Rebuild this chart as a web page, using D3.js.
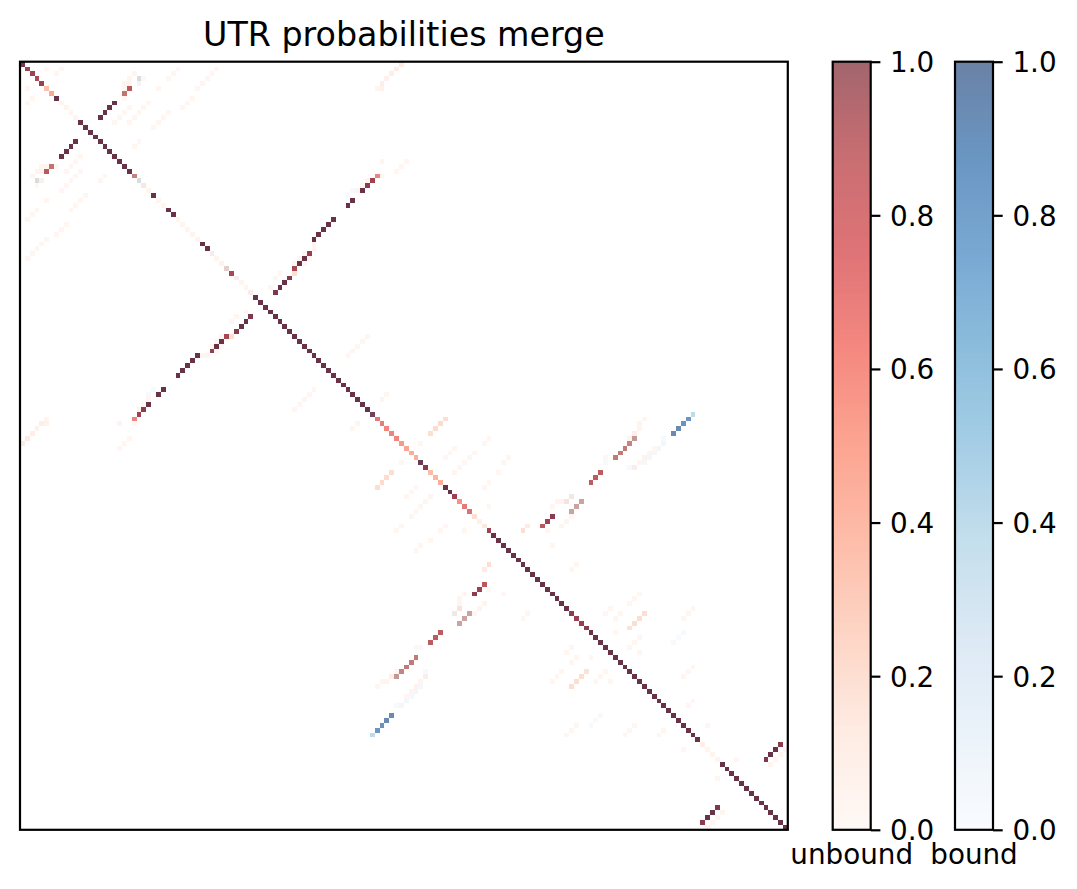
<!DOCTYPE html>
<html>
<head>
<meta charset="utf-8">
<script src="https://cdn.jsdelivr.net/npm/d3@7"></script>
<style>
  html, body { margin: 0; padding: 0; background: #fff; }
  svg { display: block; }
  text { font-family: "DejaVu Sans", sans-serif; fill: #000; }
</style>
</head>
<body>
<svg id="chart" width="1077" height="889"></svg>
<script>
const cellCount = 158;

// values on the main diagonal, one per position
const diagUnbound = [
  .95,.78,.78,.7,.8,.36,.48,1,.05,.05,
  .04,.05,1,1,1,1,1,1,1,1,
  1,1,1,.42,.08,.06,.05,1,.05,.05,
  1,1,.05,.04,.04,.04,.05,1,1,.08,
  .05,.06,.2,.72,.07,.05,.04,.08,1,1,
  1,1,1,1,1,1,1,1,1,1,
  1,1,1,1,1,1,1,1,1,1,
  1,1,1,.72,.7,.64,.66,.64,.55,.5,
  .46,.45,1,.9,.38,.42,.45,1,1,.8,
  .58,.72,.78,.2,.08,.15,.78,1,1,1,
  1,1,1,1,1,1,1,1,1,1,
  1,1,1,.88,.8,.82,.88,1,1,1,
  1,1,1,1,1,1,1,1,1,1,
  1,1,1,1,1,1,1,1,1,1,
  .1,.05,.05,.04,1,1,1,1,1,1,
  1,1,1,1,1,1,1,1
];
const diagBound = [
  1,1,1,1,1,0,0,1,0,0,
  0,0,1,1,1,1,1,1,1,1,
  1,1,1,1,.5,.25,0,1,0,0,
  1,1,0,0,0,0,0,1,1,.1,
  0,0,.4,1,.1,0,0,.08,1,1,
  1,1,1,1,1,1,1,1,1,1,
  1,1,1,1,1,1,1,1,1,1,
  1,1,.75,0,0,0,0,0,0,0,
  0,0,.9,1,0,0,0,1,1,1,
  0,0,0,0,0,0,1,1,1,1,
  1,1,1,1,1,1,1,1,1,1,
  1,1,1,1,1,1,1,1,1,1,
  1,1,1,1,1,1,1,1,1,1,
  1,1,1,1,1,1,1,1,1,1,
  0,0,0,0,1,1,1,1,1,1,
  1,1,1,1,1,1,1,1
];

// [row, col, unbound, bound], upper triangle only, mirrored when drawn
const helixFirst = [[8,19,1,1],[9,18,1,1],[10,17,1,1],[11,16,1,1],[5,22,.62,1],[6,21,.5,1]];
const helixLong = [
  [23,73,.66,0],[24,72,.78,1],[25,71,.88,1],[26,70,1,1],[28,68,1,1],[29,67,1,1],
  [32,64,1,1],[33,63,1,1],[34,62,1,1],[35,61,1,1],[36,60,1,1],[39,59,.82,1],
  [40,58,1,1],[41,57,1,1],[42,56,.72,1],[43,56,.2,0],[44,55,.9,1],[45,54,1,1],
  [46,53,1,1],[47,52,.92,1]
];
const helixMiddle = [
  [77,126,.3,1],[78,125,.4,1],[79,124,.46,1],[80,123,.46,1],[81,122,.46,1],
  [84,119,.6,1],[85,118,.6,1],[86,117,.6,1],[89,113,.1,.2],[90,112,.15,.1],
  [90,115,.35,.7],[91,114,.35,.7],[92,113,.35,.7],[93,109,.88,1],[94,108,.78,1],
  [95,107,.62,1],[95,104,.13,0],[96,103,.2,0]
];
const helixPeach = [
  [73,87,.2,0],[74,86,.22,0],[75,85,.22,0],[76,84,.2,0],
  [113,128,.2,0],[114,127,.2,0],[115,126,.2,0],[116,125,.18,0],
  [0,78,.12,0],[1,77,.12,0],[2,76,.1,0],[3,75,.07,0],[4,74,.1,0],[5,73,.05,0],[5,74,.06,0]
];
const helixBound = [[72,138,0,.4],[73,137,0,.875],[74,136,0,.9],[75,135,0,.95],[76,134,0,.95]];
const helixLast = [[140,156,.88,1],[141,155,1,1],[142,154,1,1],[143,153,.92,1]];

const lowCells = [
  [3,22,.05,0],[4,21,.05,0],[4,22,.05,0],[2,23,.05,0],[3,24,.08,.5],[4,24,.03,.12],[3,25,.02,0],
  [20,74,.04,0],[24,71,.04,0],[26,69,.05,0],[26,68,0,.03],[27,67,0,.03],
  [39,58,.05,0],[40,57,.04,0],[41,56,.04,0],[37,60,.04,0],[38,60,.04,0],
  [69,74,.04,0],[84,89,.04,0],[90,110,.04,0],[90,111,.04,0],[94,112,.05,0],[95,111,.05,0],
  [74,127,.05,0],[75,127,.05,0],[76,126,.1,0],[77,125,.05,0],[82,120,0,.03],
  [77,132,0,.03],[78,132,0,.06],[79,131,0,.06],[79,130,.03,0],[80,130,0,.05],[80,129,.04,0],
  [81,129,0,.06],[81,128,.06,0],[82,128,0,.05],[82,127,.05,0],[83,126,.05,.1],[83,125,0,.03],
  [117,136,0,.03],[118,135,0,.02],[119,134,0,.03],
  [141,157,.05,0],[142,156,.05,0],[143,155,.05,0],[144,154,.05,0]
];

// barely visible cells, all about the same unbound level
const faintLevel = .03;
const faintCells = [
  [1,5],[1,8],[2,7],[1,32],[2,31],[3,30],[5,21],[7,21],[5,28],[5,36],[4,37],[3,38],[2,39],[1,40],
  [7,35],[8,34],[9,33],[8,26],[9,25],[10,24],[11,23],[9,22],[10,21],[11,20],[12,19],[12,22],
  [12,28],[13,27],[11,29],[10,30],[16,24],[17,23],[20,79],[21,78],[22,77],[23,74],[25,70],
  [40,59],[41,58],[43,53],[44,52],[46,51],[56,71],[57,70],[58,69],[59,68],[60,67],[68,75],
  [78,82],[79,89],[80,88],[81,87],[81,92],[82,91],[83,90],[77,96],[78,95],[80,93],
  [81,100],[82,99],[84,98],[86,96],[87,95],[91,96],[96,108],[91,109],[99,109],[73,128],[81,120],
  [93,113],[104,113],[103,114],[109,127],[110,126],[111,125],[112,121],[113,120],[113,123],
  [114,122],[117,122],[112,138],[113,137],[114,136],[118,127],[119,126],[120,125],[121,127],
  [124,138],[125,137],[126,136],[131,138],[132,137],[136,141],[143,147]
];

const colorbarTicks = [0, .2, .4, .6, .8, 1];
const colorbarLabels = ["unbound", "bound"];
const titleText = "UTR probabilities merge";

const box = { left: 20, right: 787.8, top: 61.7, bottom: 829.8 };
const barWidth = 38;
const bars = [
  { name: colorbarLabels[0], left: 832.7, scheme: d3.schemeReds[9] },
  { name: colorbarLabels[1], left: 955, scheme: d3.schemeBlues[9] }
];
const layerOpacity = 0.6;

const svg = d3.select("#chart");

// same 9 class ramps as the picture, linear between the stops
const stops = d3.range(9).map(i => i / 8);
const reds = d3.scaleLinear().domain(stops).range(d3.schemeReds[9]);
const blues = d3.scaleLinear().domain(stops).range(d3.schemeBlues[9]);

const x = d3.scaleBand().domain(d3.range(cellCount)).range([box.left, box.right]);
const y = d3.scaleBand().domain(d3.range(cellCount)).range([box.top, box.bottom]);

const upper = helixFirst.concat(helixLong, helixMiddle, helixPeach, helixBound, helixLast, lowCells,
  faintCells.map(d => [d[0], d[1], faintLevel, 0]));
const cells = upper.flatMap(d => [
  { row: d[0], col: d[1], unbound: d[2], bound: d[3] },
  { row: d[1], col: d[0], unbound: d[2], bound: d[3] }
]).concat(diagUnbound.map((v, i) => ({ row: i, col: i, unbound: v, bound: diagBound[i] })));

function drawLayer(key, color) {
  svg.append("g")
      .attr("opacity", layerOpacity)
      .attr("shape-rendering", "crispEdges")
    .selectAll("rect")
    .data(cells.filter(d => d[key] > 0))
    .enter().append("rect")
      .attr("x", d => Math.round(x(d.col)))
      .attr("y", d => Math.round(y(d.row)))
      .attr("width", d => Math.round(x(d.col) + x.bandwidth()) - Math.round(x(d.col)))
      .attr("height", d => Math.round(y(d.row) + y.bandwidth()) - Math.round(y(d.row)))
      .attr("fill", d => color(d[key]));
}

// bound goes underneath, unbound on top
drawLayer("bound", blues);
drawLayer("unbound", reds);

svg.append("rect")
    .attr("x", box.left)
    .attr("y", box.top)
    .attr("width", box.right - box.left)
    .attr("height", box.bottom - box.top)
    .attr("fill", "none")
    .attr("stroke", "#000")
    .attr("stroke-width", 2.2);

svg.append("text")
    .attr("x", (box.left + box.right) / 2)
    .attr("y", 46)
    .attr("text-anchor", "middle")
    .style("font-size", "33.3px")
    .text(titleText);

const barScale = d3.scaleLinear().domain([0, 1]).range([box.bottom, box.top]);

bars.forEach(bar => {
  const ramp = d3.scaleLinear().domain(stops).range(bar.scheme);
  const g = svg.append("g");

  g.append("g")
      .attr("opacity", layerOpacity)
      .attr("shape-rendering", "crispEdges")
    .selectAll("rect")
    .data(d3.range(256))
    .enter().append("rect")
      .attr("x", bar.left)
      .attr("y", d => barScale((d + 1) / 256))
      .attr("width", barWidth)
      .attr("height", d => barScale(d / 256) - barScale((d + 1) / 256) + 0.5)
      .attr("fill", d => ramp(d / 255));

  g.append("rect")
      .attr("x", bar.left)
      .attr("y", box.top)
      .attr("width", barWidth)
      .attr("height", box.bottom - box.top)
      .attr("fill", "none")
      .attr("stroke", "#000")
      .attr("stroke-width", 2.2);

  const axis = g.append("g")
      .attr("transform", `translate(${bar.left + barWidth},0)`)
      .call(d3.axisRight(barScale)
        .tickValues(colorbarTicks)
        .tickFormat(d3.format(".1f"))
        .tickSize(9.7)
        .tickPadding(9.7));
  axis.select(".domain").remove();
  axis.selectAll("line").attr("stroke", "#000").attr("stroke-width", 2.2);
  axis.selectAll("text")
      .attr("dy", "0.36em")
      .style("font-size", "27.8px")
      .style("fill", "#000");

  g.append("text")
      .attr("x", bar.left + barWidth / 2)
      .attr("y", 864)
      .attr("text-anchor", "middle")
      .style("font-size", "27.8px")
      .text(bar.name);
});
</script>
</body>
</html>
